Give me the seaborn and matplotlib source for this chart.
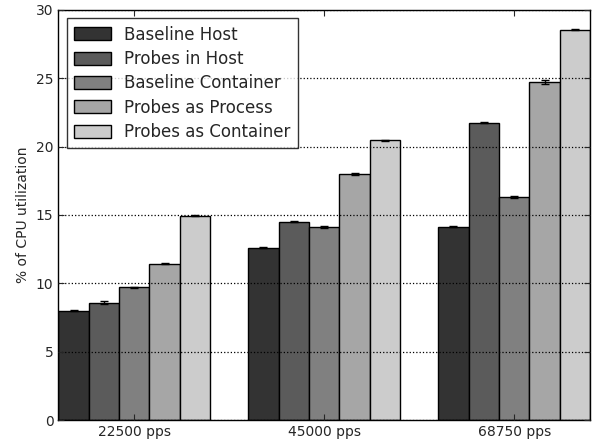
import matplotlib

matplotlib.use("Agg")

import matplotlib.pyplot as plt
import pandas as pd
import seaborn as sns

rates = ["22500 pps", "45000 pps", "68750 pps"]
setups = [
    "Baseline Host",
    "Probes in Host",
    "Baseline Container",
    "Probes as Process",
    "Probes as Container",
]
baseline_host = [8.0, 12.6, 14.15]
probes_in_host = [8.6, 14.5, 21.75]
baseline_container = [9.7, 14.1, 16.3]
probes_as_process = [11.45, 18.0, 24.7]
probes_as_container = [14.95, 20.45, 28.55]

err_baseline_host = [0.05, 0.05, 0.06]
err_probes_in_host = [0.08, 0.05, 0.06]
err_baseline_container = [0.05, 0.06, 0.06]
err_probes_as_process = [0.07, 0.05, 0.15]
err_probes_as_container = [0.04, 0.05, 0.05]

colors = ["#333333", "#5b5b5b", "#808080", "#a6a6a6", "#cccccc"]

values = [baseline_host, probes_in_host, baseline_container,
          probes_as_process, probes_as_container]
errors = [err_baseline_host, err_probes_in_host, err_baseline_container,
          err_probes_as_process, err_probes_as_container]

rows = []
for setup, vals, errs in zip(setups, values, errors):
    for rate, v, e in zip(rates, vals, errs):
        rows.append({"Rate": rate, "Setup": setup, "CPU": v, "Err": e})
df = pd.DataFrame(rows)

sns.set_style("white")
plt.rcParams["font.family"] = ["DejaVu Sans"]

fig, ax = plt.subplots(figsize=(5.95, 4.46), dpi=100)
sns.barplot(
    data=df, x="Rate", y="CPU", hue="Setup", hue_order=setups,
    order=rates, palette=colors, edgecolor="black", linewidth=1,
    errorbar=None, width=0.8, saturation=1, ax=ax,
)

# error bars at the centre of each drawn bar
for i, setup in enumerate(setups):
    bars = ax.containers[i]
    sub = df[df["Setup"] == setup].set_index("Rate").loc[rates]
    xs = [b.get_x() + b.get_width() / 2 for b in bars]
    ax.errorbar(xs, sub["CPU"].values, yerr=sub["Err"].values, fmt="none",
                ecolor="black", elinewidth=1, capsize=3, capthick=1, zorder=5)

ax.set_xlim(-0.4, 2.4)
ax.set_ylim(0, 30)
ax.set_yticks(range(0, 31, 5))
ax.set_xlabel("")
ax.set_ylabel("% of CPU utilization", fontsize=10)
# grid drawn over the bars, like the old matplotlib default
ax.set_axisbelow(False)
ax.yaxis.grid(True, linestyle=":", color="black", linewidth=0.9)
ax.tick_params(direction="in", top=True, right=True, bottom=True, left=True,
               length=4, labelsize=10)
for s in ax.spines.values():
    s.set_color("black")
    s.set_linewidth(1)

leg = ax.legend(loc="upper left", fontsize=12, frameon=True, fancybox=False,
                handlelength=2.2, handleheight=0.8, borderpad=0.45,
                labelspacing=0.38, borderaxespad=0.5)
leg.get_frame().set_edgecolor("black")
leg.get_frame().set_linewidth(1)
leg.set_zorder(10)

fig.subplots_adjust(left=0.098, right=0.992, top=0.978, bottom=0.058)
fig.savefig("out.png", dpi=100)
